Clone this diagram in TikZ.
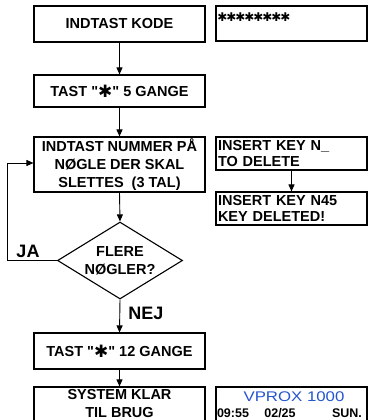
\documentclass[tikz,border=0pt]{standalone}
\usepackage{fontspec}
\setmainfont{Liberation Sans}
\newfontfamily\symfont{DejaVu Sans}
\usetikzlibrary{shapes.geometric,arrows.meta}
\definecolor{vblue}{RGB}{35,85,205}
\newcommand\hstar{{\fontsize{17}{17}\selectfont\symfont\raisebox{-1pt}{✱}}}
\newcommand\qd{\textquotedbl}
\begin{document}
\begin{tikzpicture}[x=1pt,y=-1pt,
  box/.style={draw,line width=1.1pt,inner sep=0pt,align=center,minimum width=171pt,font=\fontsize{14.5}{18}\selectfont\bfseries},
  lbox/.style={draw,line width=1.1pt,inner xsep=2pt,inner ysep=0pt,minimum width=151pt,text width=147pt,align=left,font=\fontsize{14.5}{16}\selectfont\bfseries},
  conn/.style={line width=0.9pt,-{Triangle[width=6pt,length=7pt]}},
  lbl/.style={font=\fontsize{18}{20}\selectfont\bfseries},
  star/.style={font=\fontsize{12}{12}\selectfont,inner sep=0pt}]
\useasboundingbox (0,0) rectangle (369,420);
\clip (0,0) rectangle (369,420);

% left column
\node[box,minimum height=36pt] (b1) at (119.5,24) {INDTAST KODE};
\node[box,minimum height=32pt] (b2) at (119.5,91) {TAST \qd\hstar\qd\ 5 GANGE};
\node[box,minimum height=55pt] (b3) at (119.5,164.5) {INDTAST NUMMER PÅ\\NØGLE DER SKAL\\SLETTES\ \ (3 TAL)};
\node[draw,line width=1.1pt,shape=diamond,aspect=1.62,inner sep=0pt,minimum width=125pt,minimum height=77pt,align=center,font=\fontsize{14.5}{18}\selectfont\bfseries] (d) at (120,260.5) {FLERE\\NØGLER?};
\node[box,minimum height=36pt] (b4) at (119.5,351) {TAST \qd\hstar\qd\ 12 GANGE};
\node[box,minimum height=40pt] (b5) at (119.5,407) {};
\node[align=center,inner sep=0pt,font=\fontsize{14.5}{18}\selectfont\bfseries] (b5t) at (119.5,404) {SYSTEM KLAR\\TIL BRUG};

% right column
\node[draw,line width=1.1pt,minimum width=151pt,minimum height=35pt,inner sep=0pt] (r1) at (291.5,23.5) {};
\foreach \i in {0,...,7} {\node[star] (s\i) at (222.5+9*\i,17) {\symfont ✱};}
\node[lbox,minimum height=33pt] (r2) at (291.5,153.5) {INSERT KEY N\_\\TO DELETE};
\node[lbox,minimum height=33pt] (r3) at (291.5,208.5) {INSERT KEY N45\\KEY DELETED!};
\node[draw,line width=1.1pt,minimum width=151pt,minimum height=40pt,inner sep=0pt] (r4) at (291.5,407) {};
\node[font=\fontsize{14}{14}\selectfont,text=vblue,inner sep=0pt] (vp) at (294,397) {\scalebox{1.2}[1]{VPROX 1000}};
\node[font=\fontsize{12.5}{12}\selectfont\bfseries,inner sep=0pt] (t1) at (233,413) {09:55};
\node[font=\fontsize{12.5}{12}\selectfont\bfseries,inner sep=0pt] (t2) at (280,413) {02/25};
\node[font=\fontsize{12.5}{12}\selectfont\bfseries,inner sep=0pt] (t3) at (347,413) {SUN.};

% connectors
\draw[conn] (b1.south) -- (b2.north);
\draw[conn] (b2.south) -- (b3.north);
\draw[conn] (b3.south) -- (d.north);
\draw[conn] (d.south) -- (b4.north);
\draw[conn] (b4.south) -- (b5.north);
\draw[conn] (r2.south) -- (r3.north);
\coordinate (jl) at (7,260.5);
\coordinate (jt) at (7,163);
\draw[conn] (d.west) -- (jl) -- (jt) -- (b3.west |- jt);

% labels
\node[lbl,inner sep=0pt] (ja) at (28,251) {JA};
\node[lbl,inner sep=0pt] (nej) at (146,313) {NEJ};
\end{tikzpicture}
\end{document}
